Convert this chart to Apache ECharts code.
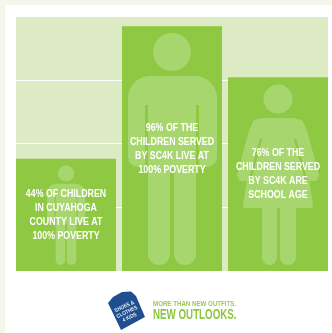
<!DOCTYPE html>
<html>
<head>
<meta charset="utf-8">
<style>html,body{margin:0;padding:0;background:#fff}#chart{width:332px;height:333px}</style>
<script src="https://cdn.jsdelivr.net/npm/echarts@6/dist/echarts.min.js"></script>
</head>
<body>
<div id="chart"></div>
<script>
// Share of children, in percent, for each of the three columns
const categories = ['Cuyahoga County', 'Served in poverty', 'Served of school age'];
const percentValues = [44, 96, 76];
const captions = [
  '44% OF CHILDREN\nIN CUYAHOGA\nCOUNTY LIVE AT\n100% POVERTY',
  '96% OF THE\nCHILDREN SERVED\nBY SC4K LIVE AT\n100% POVERTY',
  '76% OF THE\nCHILDREN SERVED\nBY SC4K ARE\nSCHOOL AGE'
];
const figureKinds = ['boy', 'boy', 'girl'];

const BAR = '#8fc843', FIG = '#a8d66e', PLOT = '#dcebc3', EDGE = '#f3f8ea', BLUE = '#1f4f8f';
const figureScales = [0.43, 1, 1];
const captionDrops = [56.5, 123, 97];
const SANS = '"Liberation Sans", sans-serif';

function boyParts() {
  const f = { fill: FIG };
  return [
    { type: 'circle', shape: { cx: 0, cy: -213, r: 19 }, style: f },
    { type: 'rect', shape: { x: -44, y: -189, width: 89, height: 91, r: [22, 22, 10, 10] }, style: f },
    { type: 'rect', shape: { x: -24, y: -110, width: 22, height: 110, r: 11 }, style: f },
    { type: 'rect', shape: { x: 2, y: -110, width: 22, height: 110, r: 11 }, style: f },
    { type: 'rect', shape: { x: -24, y: -110, width: 48, height: 14 }, style: f },
    { type: 'rect', shape: { x: -27, y: -160, width: 3, height: 66 }, style: { fill: BAR } },
    { type: 'rect', shape: { x: 24, y: -160, width: 3, height: 66 }, style: { fill: BAR } }
  ];
}

function girlParts() {
  const f = { fill: FIG, stroke: FIG, lineWidth: 4, lineJoin: 'round' };
  const side = [[-15, -145], [-23, -143], [-27, -134], [-39, -90], [-37, -86], [-29, -86], [-33, -59]];
  const outline = side.concat(side.slice().reverse().map(p => [-p[0], p[1]]));
  const slit = { stroke: BAR, lineWidth: 2.5, fill: 'none' };
  return [
    { type: 'circle', shape: { cx: 0, cy: -166, r: 14.5 }, style: { fill: FIG } },
    { type: 'rect', shape: { x: -16, y: -62, width: 15, height: 62, r: [0, 0, 7.5, 7.5] }, style: { fill: FIG } },
    { type: 'rect', shape: { x: 2, y: -62, width: 16, height: 62, r: [0, 0, 8, 8] }, style: { fill: FIG } },
    { type: 'polygon', shape: { points: outline }, style: f },
    { type: 'polyline', shape: { points: [[-17, -126], [-29, -82]] }, style: slit },
    { type: 'polyline', shape: { points: [[17, -126], [29, -82]] }, style: slit }
  ];
}

function renderColumn(params, api) {
  const i = api.value(0);
  const top = api.coord([i, api.value(1)]);
  const base = api.coord([i, 0]);
  const k = figureScales[i];
  return {
    type: 'group',
    children: [
      {
        type: 'group', x: base[0], y: base[1] - 6, scaleX: k, scaleY: k,
        children: figureKinds[i] === 'boy' ? boyParts() : girlParts()
      },
      {
        type: 'text', x: base[0], y: top[1] + captionDrops[i], scaleX: 0.84,
        style: {
          text: captions[i], fill: '#ffffff', font: 'bold 10.5px ' + SANS, lineHeight: 14,
          textAlign: 'center', textVerticalAlign: 'middle'
        }
      }
    ]
  };
}

const chart = echarts.init(document.getElementById('chart'), null, { renderer: 'canvas' });
chart.setOption({
  animation: false,
  backgroundColor: '#ffffff',
  grid: { left: 13, top: 16, width: 318, height: 255 },
  xAxis: {
    type: 'category', data: categories,
    axisLine: { show: false }, axisTick: { show: false }, axisLabel: { show: false }
  },
  yAxis: {
    type: 'value', min: 0, max: 100, interval: 25,
    axisLine: { show: false }, axisTick: { show: false }, axisLabel: { show: false },
    splitLine: { show: true, lineStyle: { color: '#ffffff', width: 1 } }
  },
  graphic: [
    { type: 'rect', z: -10, silent: true, shape: { x: 0, y: 0, width: 332, height: 5 }, style: { fill: EDGE } },
    { type: 'rect', z: -10, silent: true, shape: { x: 0, y: 5, width: 5, height: 328 }, style: { fill: EDGE } },
    { type: 'rect', z: -10, silent: true, shape: { x: 16, y: 16, width: 312, height: 255 }, style: { fill: PLOT } },
    {
      type: 'polygon', silent: true,
      shape: { points: [[122, 292], [131, 291.5], [136, 296], [145, 317], [121, 330], [108, 303], [113, 297]] },
      style: { fill: BLUE }
    },
    {
      type: 'text', silent: true, x: 127, y: 312, rotation: 0.44, scaleX: 0.85,
      style: {
        text: 'SHOES &\nCLOTHES\n4 KIDS', fill: '#e6edf5', lineHeight: 6,
        font: 'bold 5.5px ' + SANS,
        textAlign: 'center', textVerticalAlign: 'middle'
      }
    },
    {
      type: 'text', silent: true, x: 153, y: 303.5, scaleX: 0.77,
      style: {
        text: 'MORE THAN NEW OUTFITS.', fill: '#98cc50',
        font: 'bold 8px ' + SANS, textVerticalAlign: 'middle'
      }
    },
    {
      type: 'text', silent: true, x: 153, y: 314.5, scaleX: 0.63,
      style: {
        text: 'NEW OUTLOOKS.', fill: '#8cc63f',
        font: 'bold 15.5px ' + SANS, textVerticalAlign: 'middle'
      }
    }
  ],
  series: [
    {
      type: 'bar', data: percentValues, barWidth: 100, z: 2,
      itemStyle: { color: BAR }, silent: true
    },
    {
      type: 'custom', z: 3, silent: true, clip: false,
      data: percentValues.map((v, i) => [i, v]),
      encode: { x: 0, y: 1 },
      renderItem: renderColumn
    }
  ]
});
</script>
</body>
</html>
